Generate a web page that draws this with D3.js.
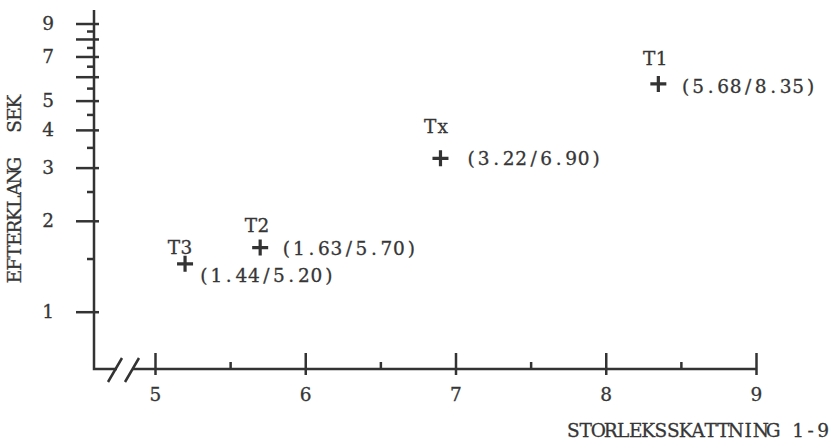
<!DOCTYPE html>
<html>
<head>
<meta charset="utf-8">
<script src="https://cdn.jsdelivr.net/npm/d3@7"></script>
<style>
  body { margin: 0; background: #fff; }
  text { font-family: "DejaVu Serif", "Liberation Serif", serif; font-size: 18.5px; fill: #363636; stroke: #363636; stroke-width: 0.3; white-space: pre; }
  .tick line, .axisline { stroke: #333; stroke-width: 2.5; fill: none; }
  .domain { display: none; }
</style>
</head>
<body>
<div id="chart"></div>
<script>
  // points: efterklang (sek) against storleksskattning (1-9)
  var names = ['T1', 'Tx', 'T2', 'T3'];
  var efterklang = [5.68, 3.22, 1.63, 1.44];
  var storlek = [8.35, 6.90, 5.70, 5.20];

  var xTicks = [5, 6, 7, 8, 9];
  var xMinor = [5.5, 6.5, 7.5, 8.5];
  var yTicks = [1, 2, 3, 4, 5, 6, 7, 8, 9];
  var yLabels = [1, 2, 3, 4, 5, 7, 9];
  var yMinor = [1.5, 2.5, 3.5, 4.5, 5.5, 6.5, 7.5, 8.5];

  // label placement relative to each cross [nameDx, nameDy, valueDx, valueDy]
  var labelOffsets = [[-3, -19, 21, 9.5], [-4, -25, 24.5, 7], [-3, -16, 20, 7], [-5, -10, 12.5, 18]];

  var WIDTH = 838, HEIGHT = 442;
  var AX = 94, AY = 369;
  var PITCH = 12.5;  // typewriter spacing

  // lay a string out on a fixed pitch, every glyph centred in its cell
  function typewrite(sel, str, x0, anchor) {
    var n = str.length;
    var left = anchor === 'middle' ? x0 - n * PITCH / 2 : x0;
    var xs = [];
    for (var i = 0; i < n; i++) xs.push(left + PITCH * (i + 0.5));
    sel.attr('x', xs.join(' ')).attr('text-anchor', 'middle').text(str);
  }

  var svg = d3.select('#chart').append('svg')
    .attr('width', WIDTH)
    .attr('height', HEIGHT);

  var x = d3.scaleLinear().domain([5, 9]).range([155, 756]);
  var y = d3.scaleLog().domain([1, 10]).range([311.7, 9.7]);

  // y axis: long ticks to the left, short stub to the right, minor ticks
  svg.append('g')
    .attr('transform', 'translate(' + AX + ',0)')
    .call(d3.axisLeft(y).tickValues(yTicks).tickSize(18).tickPadding(22)
      .tickFormat(function(d) { return yLabels.indexOf(d) >= 0 ? d : ''; }));
  svg.append('g')
    .attr('transform', 'translate(' + AX + ',0)')
    .call(d3.axisRight(y).tickValues(yTicks).tickSize(5).tickFormat(''));
  svg.append('g')
    .attr('transform', 'translate(' + AX + ',0)')
    .call(d3.axisLeft(y).tickValues(yMinor).tickSize(7).tickFormat(''));

  // x axis
  svg.append('g')
    .attr('transform', 'translate(0,' + AY + ')')
    .call(d3.axisBottom(x).tickValues(xTicks).tickSize(6).tickPadding(13).tickFormat(d3.format('d')));
  svg.append('g')
    .attr('transform', 'translate(0,' + AY + ')')
    .call(d3.axisTop(x).tickValues(xTicks).tickSize(16).tickFormat(''));
  svg.append('g')
    .attr('transform', 'translate(0,' + AY + ')')
    .call(d3.axisTop(x).tickValues(xMinor).tickSize(7).tickFormat(''));

  // axis lines with the break marks
  svg.append('path').attr('class', 'axisline')
    .attr('d', 'M' + AX + ' 10 L' + AX + ' ' + AY + ' L117 ' + AY);
  svg.append('path').attr('class', 'axisline')
    .attr('d', 'M132 ' + AY + ' L' + x(9) + ' ' + AY);
  svg.append('path').attr('class', 'axisline')
    .attr('d', 'M108 382 L122 358 M125 382 L139 358');

  // axis titles
  svg.append('text')
    .attr('transform', 'translate(21,189) rotate(-90)')
    .call(typewrite, 'EFTERKLANG  SEK', 0, 'middle');
  svg.append('text')
    .attr('y', 437)
    .call(typewrite, 'STORLEKSSKATTNING 1-9', 567, 'start');

  // crosses and labels
  var pts = svg.selectAll('g.pt')
    .data(names.map(function(n, i) { return { name: n, s: efterklang[i], v: storlek[i], off: labelOffsets[i] }; }))
    .enter().append('g')
    .attr('class', 'pt')
    .attr('transform', function(d) { return 'translate(' + x(d.v) + ',' + y(d.s) + ')'; });

  pts.append('path')
    .attr('d', 'M-8 0 L8 0 M0 -8 L0 8')
    .attr('stroke', '#333')
    .attr('stroke-width', 3.2);

  pts.append('text')
    .attr('y', function(d) { return d.off[1]; })
    .each(function(d) { d3.select(this).call(typewrite, d.name, d.off[0], 'middle'); });

  pts.append('text')
    .attr('y', function(d) { return d.off[3]; })
    .each(function(d) {
      d3.select(this).call(typewrite, '(' + d.s.toFixed(2) + '/' + d.v.toFixed(2) + ')', d.off[2], 'start');
    });
</script>
</body>
</html>
